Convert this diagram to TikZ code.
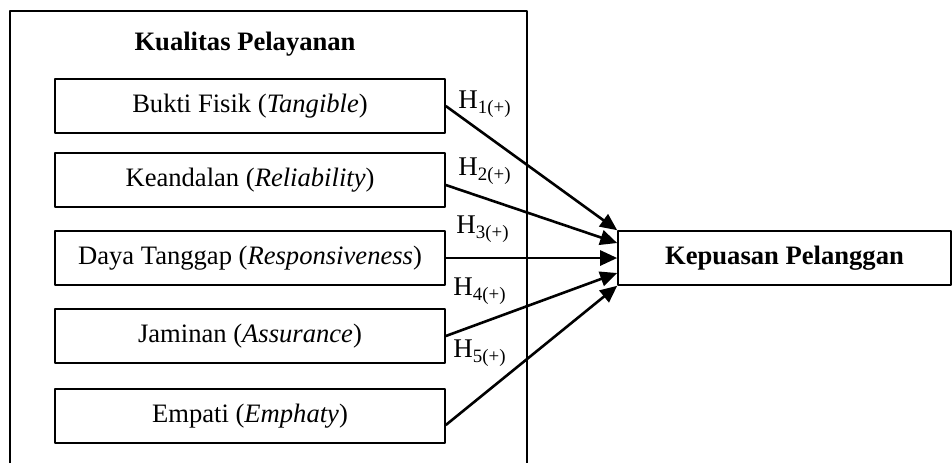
\documentclass[tikz,border=0pt]{standalone}
\usepackage{fontspec}
\setmainfont{Liberation Serif}
\usetikzlibrary{arrows.meta}

\begin{document}
\begin{tikzpicture}[x=0.5pt,y=-0.5pt,>={Triangle[length=8.5pt,width=7.5pt]}, font=\fontsize{13.3}{15}\selectfont, line join=round,
	kotak/.style={draw,line width=0.8pt,minimum width=195pt,minimum height=27pt,inner sep=0pt},
	hip/.style={font=\fontsize{13.5}{16}\selectfont,inner sep=0pt},
	panah/.style={->,line width=1.3pt}]
	\useasboundingbox (0,0) rectangle (952,463);
	
	\draw[line width=0.7pt] (10,463)|-(527,11)--(527,463); % kotak luar
	\node (judul) at (245,44) {\textbf{Kualitas Pelayanan}};
	
	\node[kotak] (b1) at (250,106) {Bukti Fisik (\textit{Tangible})};
	\node[kotak] (b2) at (250,180) {Keandalan (\textit{Reliability})};
	\node[kotak] (b3) at (250,258) {Daya Tanggap (\textit{Responsiveness})};
	\node[kotak] (b4) at (250,336) {Jaminan (\textit{Assurance})};
	\node[kotak] (b5) at (250,416) {Empati (\textit{Emphaty})};
	\node[kotak,minimum width=166.5pt] (kp) at (784.5,258) {\textbf{Kepuasan Pelanggan}};
	
	\draw[panah] (b1.east)--(kp.north west);
	\draw[panah] ([yshift=-2.5pt]b2.east)--([yshift=7.5pt]kp.west);
	\draw[panah] (b3.east)--(kp.west);
	\draw[panah] (b4.east)--([yshift=-7.5pt]kp.west);
	\draw[panah] ([yshift=-4.5pt]b5.east)--(kp.south west);
	
	\node[hip] (h1) at (485,104) {H\textsubscript{1(+)}};
	\node[hip] (h2) at (485,171) {H\textsubscript{2(+)}};
	\node[hip] (h3) at (483,229) {H\textsubscript{3(+)}};
	\node[hip] (h4) at (480,291) {H\textsubscript{4(+)}};
	\node[hip] (h5) at (480,353) {H\textsubscript{5(+)}};
\end{tikzpicture}
\end{document}
